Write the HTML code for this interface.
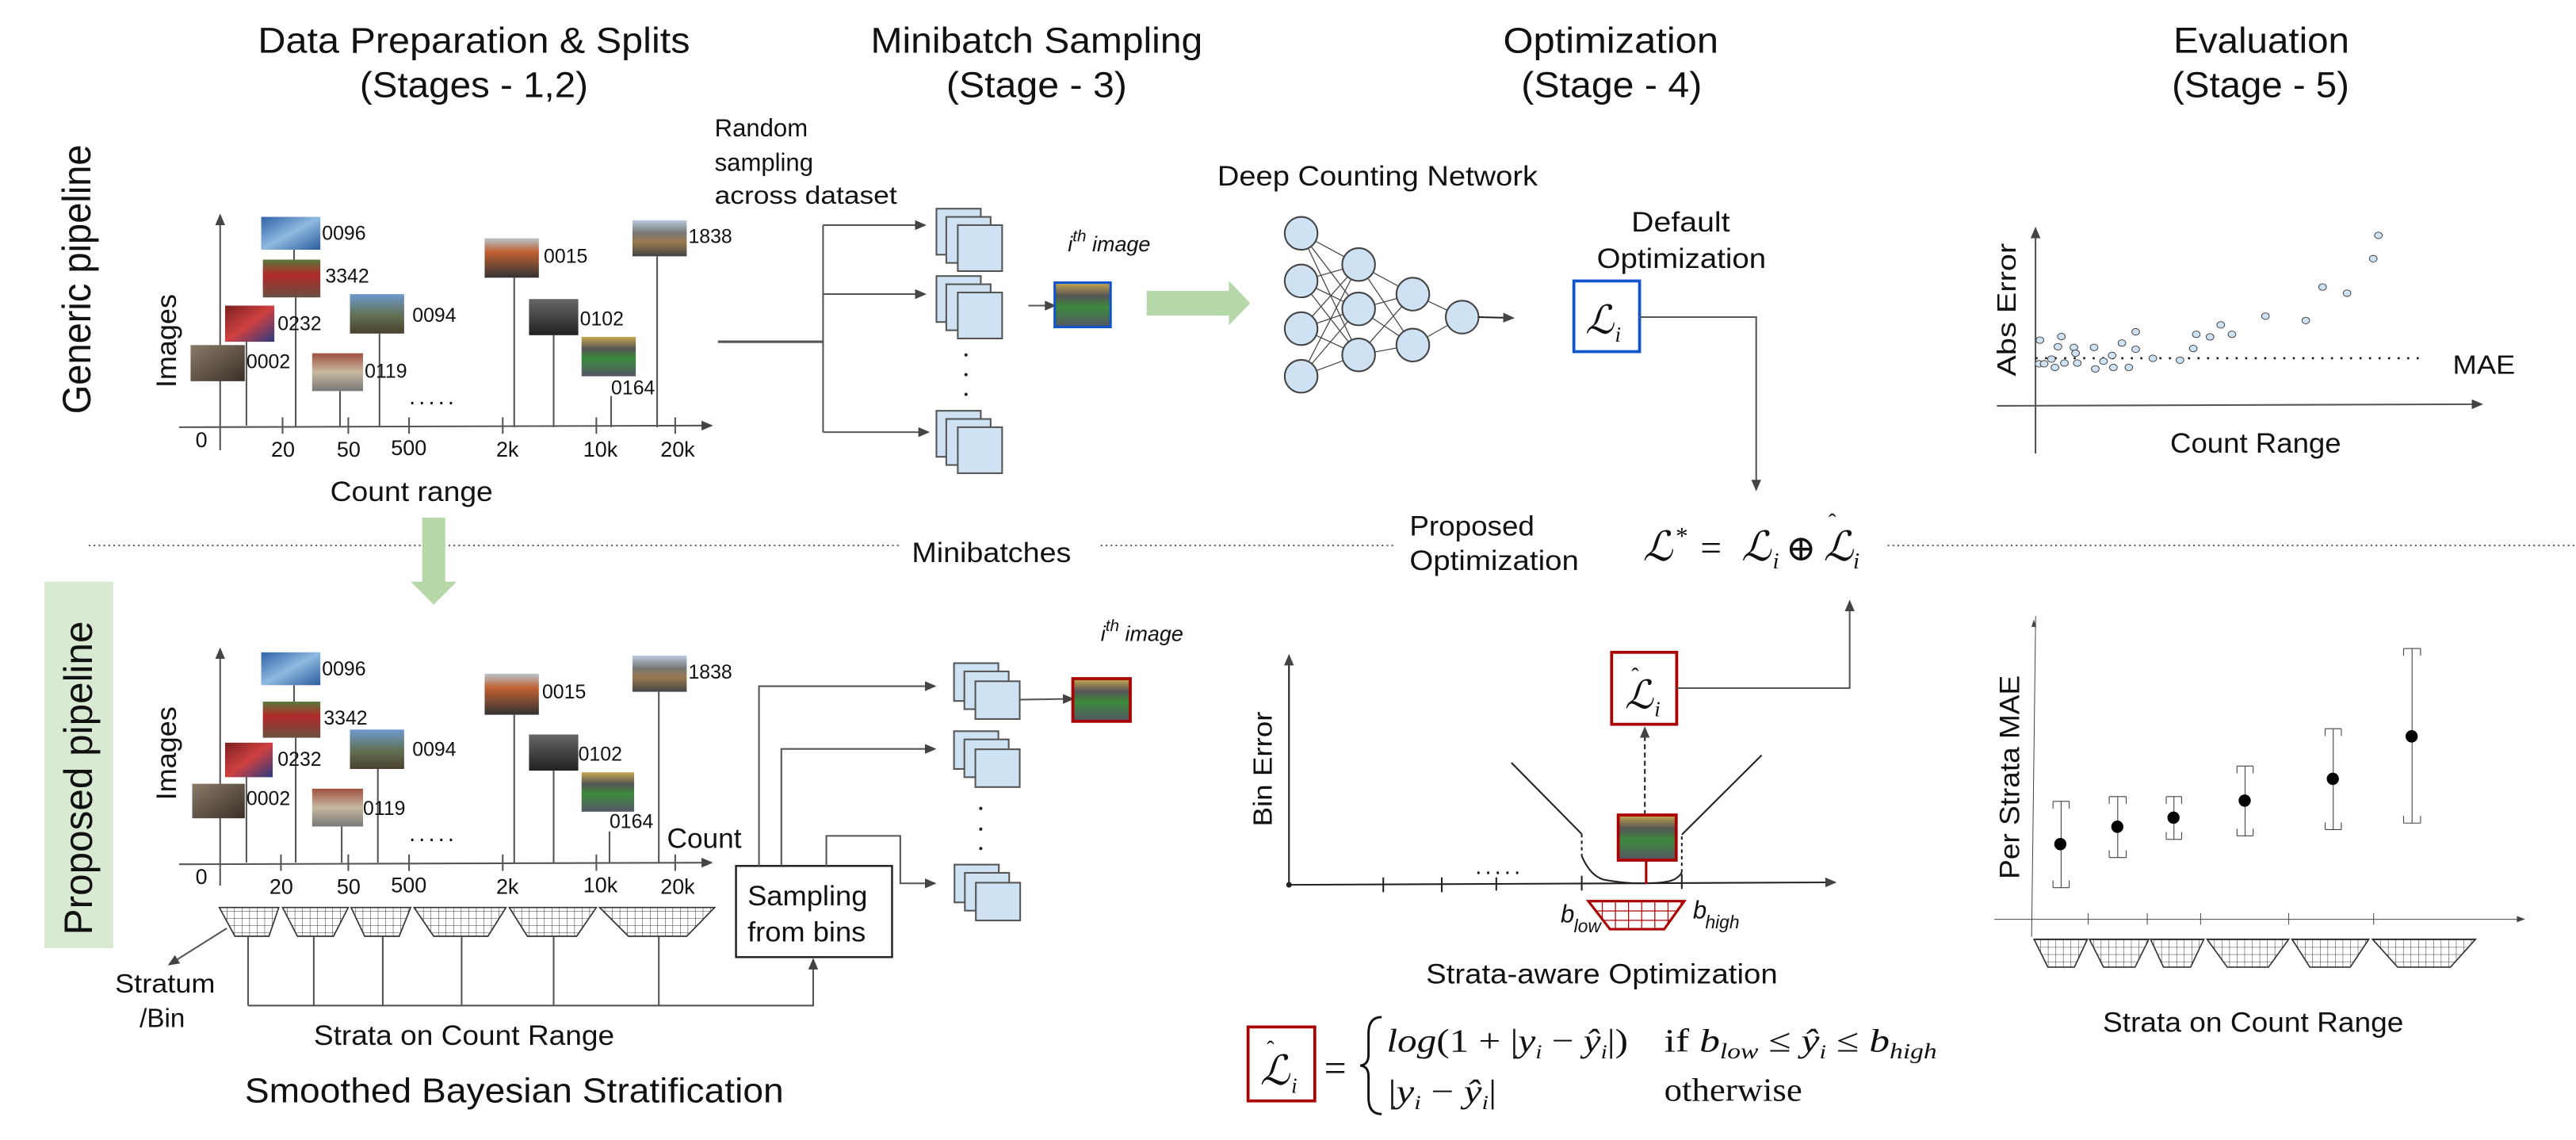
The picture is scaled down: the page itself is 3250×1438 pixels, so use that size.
<!DOCTYPE html>
<html><head><meta charset="utf-8"><style>
html,body{margin:0;padding:0;background:#fff;}
svg{display:block;}
.n{font-family:"Liberation Sans Narrow","Liberation Sans",sans-serif;fill:#111;}
.w{font-family:"Liberation Sans",sans-serif;fill:#111;}
.m{font-family:"Liberation Serif","DejaVu Serif",serif;fill:#111;}
.ln{stroke:#555;stroke-width:1;fill:none;}
</style></head><body>
<svg width="3250" height="1438" viewBox="0 0 1568 693.8" preserveAspectRatio="none" xmlns="http://www.w3.org/2000/svg">
<defs>
<marker id="ah" markerUnits="userSpaceOnUse" markerWidth="7" markerHeight="6" refX="6" refY="3" orient="auto"><path d="M0,0L7,3L0,6z" fill="#444"/></marker>
<pattern id="grid" width="4.6" height="4.4" patternUnits="userSpaceOnUse"><path d="M0,0H4.6M0,0V4.4" stroke="#333" stroke-width="0.5" fill="none"/></pattern>
<pattern id="rgrid" width="8" height="5.7" patternUnits="userSpaceOnUse" x="967" y="548.4"><path d="M0,0H8M0,0V5.7" stroke="#a00" stroke-width="1.2" fill="none"/></pattern>
<pattern id="dots" width="3" height="3" patternUnits="userSpaceOnUse"><circle cx="1.5" cy="1.5" r="0.8" fill="rgba(255,255,255,0.35)"/></pattern>
<linearGradient id="gBrown" x1="0" y1="0" x2="1" y2="1"><stop offset="0" stop-color="#8a7a68"/><stop offset="1" stop-color="#3a3028"/></linearGradient>
<linearGradient id="gBlue" x1="0" y1="0" x2="1" y2="1"><stop offset="0" stop-color="#2f62a8"/><stop offset="0.5" stop-color="#8fb9e0"/><stop offset="1" stop-color="#2b5c9c"/></linearGradient>
<linearGradient id="gRed" x1="0" y1="0" x2="0" y2="1"><stop offset="0" stop-color="#5a7a3a"/><stop offset="0.4" stop-color="#b02a2a"/><stop offset="1" stop-color="#6a5040"/></linearGradient>
<linearGradient id="gRed2" x1="0" y1="0" x2="1" y2="1"><stop offset="0" stop-color="#7a2020"/><stop offset="0.5" stop-color="#d04040"/><stop offset="1" stop-color="#2a3a80"/></linearGradient>
<linearGradient id="gSky" x1="0" y1="0" x2="0" y2="1"><stop offset="0" stop-color="#6f9ad0"/><stop offset="0.55" stop-color="#607050"/><stop offset="1" stop-color="#4a4030"/></linearGradient>
<linearGradient id="gStage" x1="0" y1="0" x2="0" y2="1"><stop offset="0" stop-color="#b8c4cc"/><stop offset="0.35" stop-color="#c06030"/><stop offset="1" stop-color="#333"/></linearGradient>
<linearGradient id="gCrowd" x1="0" y1="0" x2="0" y2="1"><stop offset="0" stop-color="#666"/><stop offset="1" stop-color="#222"/></linearGradient>
<linearGradient id="gField" x1="0" y1="0" x2="0" y2="1"><stop offset="0" stop-color="#c8a850"/><stop offset="0.3" stop-color="#555"/><stop offset="0.55" stop-color="#3c8a3c"/><stop offset="1" stop-color="#556"/></linearGradient>
<linearGradient id="gStad" x1="0" y1="0" x2="0" y2="1"><stop offset="0" stop-color="#bcd"/><stop offset="0.35" stop-color="#777"/><stop offset="0.6" stop-color="#9a7a50"/><stop offset="1" stop-color="#444"/></linearGradient>
<linearGradient id="gPlaza" x1="0" y1="0" x2="0" y2="1"><stop offset="0" stop-color="#a05040"/><stop offset="0.5" stop-color="#c8b8a0"/><stop offset="1" stop-color="#777"/></linearGradient>
</defs>

<!-- Titles -->
<text class="n" x="157" y="32" font-size="22" textLength="263" lengthAdjust="spacingAndGlyphs">Data Preparation &amp; Splits</text>
<text class="n" x="219" y="59" font-size="22" textLength="139" lengthAdjust="spacingAndGlyphs">(Stages - 1,2)</text>
<text class="n" x="530" y="32" font-size="22" textLength="202" lengthAdjust="spacingAndGlyphs">Minibatch Sampling</text>
<text class="n" x="576" y="59" font-size="22" textLength="110" lengthAdjust="spacingAndGlyphs">(Stage - 3)</text>
<text class="n" x="915" y="32" font-size="22" textLength="131" lengthAdjust="spacingAndGlyphs">Optimization</text>
<text class="n" x="926" y="59" font-size="22" textLength="110" lengthAdjust="spacingAndGlyphs">(Stage - 4)</text>
<text class="n" x="1323" y="32" font-size="22" textLength="107" lengthAdjust="spacingAndGlyphs">Evaluation</text>
<text class="n" x="1322" y="59" font-size="22" textLength="108" lengthAdjust="spacingAndGlyphs">(Stage - 5)</text>

<!-- Pipeline labels -->
<text class="w" transform="translate(55,252) rotate(-90)" font-size="24" textLength="164" lengthAdjust="spacingAndGlyphs">Generic pipeline</text>
<rect x="27" y="354" width="42" height="223" fill="#d9ead3"/>
<text class="w" transform="translate(56,569) rotate(-90)" font-size="24" textLength="191" lengthAdjust="spacingAndGlyphs">Proposed  pipeline</text>

<!-- Separator -->
<line x1="54" y1="332" x2="547" y2="332" stroke="#555" stroke-width="0.9" stroke-dasharray="1,2"/>
<line x1="670" y1="332" x2="850" y2="332" stroke="#555" stroke-width="0.9" stroke-dasharray="1,2"/>
<line x1="1149" y1="332" x2="1568" y2="332" stroke="#555" stroke-width="0.9" stroke-dasharray="1,2"/>
<text class="n" x="555" y="342" font-size="17" textLength="97" lengthAdjust="spacingAndGlyphs">Minibatches</text>

<!-- green down arrow -->
<polygon points="257,315 271,315 271,354 278,354 264,368 250,354 257,354" fill="#b6d7a8"/>

<!-- ===== TOP CHART ===== -->
<g class="ln">
<line x1="134" y1="274" x2="134" y2="131" marker-end="url(#ah)"/>
<line x1="109" y1="260" x2="433" y2="259" marker-end="url(#ah)"/>
<line x1="172" y1="254" x2="172" y2="264"/><line x1="212" y1="254" x2="212" y2="264"/><line x1="249" y1="254" x2="249" y2="264"/>
<line x1="306" y1="254" x2="306" y2="264"/><line x1="363" y1="254" x2="363" y2="264"/><line x1="411" y1="254" x2="411" y2="264"/>
<line x1="150" y1="208" x2="150" y2="259"/><line x1="180" y1="181" x2="180" y2="260"/><line x1="179" y1="152" x2="179" y2="158"/>
<line x1="207" y1="238" x2="207" y2="260"/><line x1="231" y1="203" x2="231" y2="260"/><line x1="313" y1="169" x2="313" y2="260"/>
<line x1="337" y1="204" x2="337" y2="260"/><line x1="372" y1="241" x2="372" y2="260"/><line x1="400" y1="156" x2="400" y2="260"/>
</g>
<g>
<rect x="159" y="132" width="36" height="20" fill="url(#gBlue)"/>
<rect x="160" y="158" width="35" height="23" fill="url(#gRed)"/>
<rect x="137" y="186" width="30" height="22" fill="url(#gRed2)"/>
<rect x="116" y="210" width="33" height="22" fill="url(#gBrown)"/>
<rect x="190" y="215" width="31" height="23" fill="url(#gPlaza)"/>
<rect x="213" y="179" width="33" height="24" fill="url(#gSky)"/>
<rect x="295" y="145" width="33" height="24" fill="url(#gStage)"/>
<rect x="322" y="182" width="30" height="22" fill="url(#gCrowd)"/>
<rect x="354" y="205" width="33" height="24" fill="url(#gField)"/>
<rect x="385" y="134" width="33" height="22" fill="url(#gStad)"/>
<rect x="116" y="132" width="302" height="106" fill="none"/>
</g>
<g class="n" font-size="12">
<text x="196" y="146">0096</text><text x="198" y="172">3342</text><text x="169" y="201">0232</text><text x="150" y="224">0002</text>
<text x="222" y="230">0119</text><text x="251" y="196">0094</text><text x="331" y="160">0015</text><text x="353" y="198">0102</text>
<text x="372" y="240">0164</text><text x="419" y="148">1838</text>
</g>
<g class="n" font-size="13">
<text x="119" y="272">0</text><text x="165" y="278">20</text><text x="205" y="278">50</text><text x="238" y="277">500</text>
<text x="302" y="278">2k</text><text x="355" y="278">10k</text><text x="402" y="278">20k</text>
</g>
<text class="n" x="249" y="246" font-size="14" letter-spacing="2">.....</text>
<text class="n" x="201" y="305" font-size="17" textLength="99" lengthAdjust="spacingAndGlyphs">Count range</text>
<text class="w" transform="translate(107,236) rotate(-90)" font-size="17" textLength="57" lengthAdjust="spacingAndGlyphs">Images</text>

<!-- random sampling -->
<text class="n" x="435" y="83" font-size="15">Random</text>
<text class="n" x="435" y="104" font-size="15">sampling</text>
<text class="n" x="435" y="124" font-size="15" textLength="111" lengthAdjust="spacingAndGlyphs">across dataset</text>
<g class="ln">
<line x1="437" y1="208" x2="501" y2="208" stroke-width="1.5"/>
<line x1="501" y1="137" x2="501" y2="263"/>
<line x1="501" y1="137" x2="563" y2="137" marker-end="url(#ah)"/>
<line x1="501" y1="179" x2="563" y2="179" marker-end="url(#ah)"/>
<line x1="501" y1="263" x2="565" y2="263" marker-end="url(#ah)"/>
<line x1="626" y1="186" x2="642" y2="186" marker-end="url(#ah)"/>
</g>
<g fill="#cfe2f3" stroke="#555" stroke-width="1">
<rect x="570" y="127" width="27" height="28"/><rect x="576" y="132" width="27" height="28"/><rect x="583" y="137" width="27" height="28"/>
<rect x="570" y="168" width="27" height="28"/><rect x="576" y="173" width="27" height="28"/><rect x="583" y="178" width="27" height="28"/>
<rect x="570" y="250" width="27" height="28"/><rect x="576" y="255" width="27" height="28"/><rect x="583" y="260" width="27" height="28"/>
</g>
<g fill="#222"><circle cx="588" cy="216" r="1"/><circle cx="588" cy="228" r="1"/><circle cx="588" cy="240" r="1"/></g>
<rect x="642" y="172" width="34" height="27" fill="url(#gField)" stroke="#1155cc" stroke-width="1.5"/>
<text class="n" x="650" y="153" font-size="13" font-style="italic">i<tspan dy="-6" font-size="10">th</tspan><tspan dy="6"> image</tspan></text>

<!-- green right arrow -->
<polygon points="698,177 748,177 748,171 761,184.5 748,198 748,192 698,192" fill="#b6d7a8"/>

<!-- NN -->
<g stroke="#444" stroke-width="0.6">
<path d="M792,142L827,161M792,142L827,188M792,142L827,216M792,171L827,161M792,171L827,188M792,171L827,216M792,200L827,161M792,200L827,188M792,200L827,216M792,229L827,161M792,229L827,188M792,229L827,216M827,161L860,179M827,161L860,210M827,188L860,179M827,188L860,210M827,216L860,179M827,216L860,210M860,179L890,193M860,210L890,193"/>
</g>
<g fill="#cfe2f3" stroke="#444" stroke-width="1">
<circle cx="792" cy="142" r="10"/><circle cx="792" cy="171" r="10"/><circle cx="792" cy="200" r="10"/><circle cx="792" cy="229" r="10"/>
<circle cx="827" cy="161" r="10"/><circle cx="827" cy="188" r="10"/><circle cx="827" cy="216" r="10"/>
<circle cx="860" cy="179" r="10"/><circle cx="860" cy="210" r="10"/><circle cx="890" cy="193" r="10"/>
</g>
<line x1="900" y1="193" x2="921" y2="193.5" stroke="#222" marker-end="url(#ah)"/>
<text class="n" x="741" y="113" font-size="17" textLength="195" lengthAdjust="spacingAndGlyphs">Deep Counting Network</text>
<text class="n" x="993" y="141" font-size="17" textLength="60" lengthAdjust="spacingAndGlyphs">Default</text>
<text class="n" x="972" y="163" font-size="17" textLength="103" lengthAdjust="spacingAndGlyphs">Optimization</text>
<rect x="958" y="171" width="40" height="43" fill="#fff" stroke="#1155cc" stroke-width="1.8"/>
<text class="m" x="965" y="203" font-size="24" font-style="italic">ℒ</text><text class="m" x="983" y="208" font-size="13" font-style="italic">i</text>
<polyline class="ln" points="998,193 1069,193 1069,298" marker-end="url(#ah)"/>

<!-- Proposed optimization / L* -->
<text class="n" x="858" y="326" font-size="17" textLength="76" lengthAdjust="spacingAndGlyphs">Proposed</text>
<text class="n" x="858" y="347" font-size="17" textLength="103" lengthAdjust="spacingAndGlyphs">Optimization</text>
<g class="m" font-style="italic">
<text x="1000" y="341" font-size="25">ℒ</text><text x="1020" y="331" font-size="15" font-style="normal">*</text>
<text x="1035" y="341" font-size="23" font-style="normal">=</text>
<text x="1060" y="341" font-size="25">ℒ</text><text x="1079" y="346" font-size="14">i</text>
<text x="1087" y="341" font-size="22" font-style="normal">⊕</text>
<text x="1110" y="341" font-size="25">ℒ</text><text x="1128" y="346" font-size="14">i</text>
<text x="1113" y="322" font-size="14" font-style="normal">ˆ</text>
</g>

<!-- ===== BOTTOM CHART ===== -->
<g class="ln">
<line x1="134" y1="539" x2="134" y2="395" marker-end="url(#ah)"/>
<line x1="109" y1="526" x2="433" y2="525" marker-end="url(#ah)"/>
<line x1="171" y1="520" x2="171" y2="530"/><line x1="212" y1="520" x2="212" y2="530"/><line x1="249" y1="520" x2="249" y2="530"/>
<line x1="306" y1="520" x2="306" y2="530"/><line x1="363" y1="520" x2="363" y2="530"/><line x1="411" y1="520" x2="411" y2="530"/>
<line x1="150" y1="473" x2="150" y2="525"/><line x1="180" y1="449" x2="180" y2="525"/><line x1="179" y1="417" x2="179" y2="427"/>
<line x1="208" y1="503" x2="208" y2="525"/><line x1="230" y1="468" x2="230" y2="525"/><line x1="313" y1="435" x2="313" y2="525"/>
<line x1="337" y1="469" x2="337" y2="525"/><line x1="371" y1="506" x2="371" y2="525"/><line x1="401" y1="421" x2="401" y2="525"/>
</g>
<g>
<rect x="159" y="397" width="36" height="20" fill="url(#gBlue)"/>
<rect x="160" y="427" width="35" height="22" fill="url(#gRed)"/>
<rect x="137" y="452" width="29" height="21" fill="url(#gRed2)"/>
<rect x="117" y="477" width="32" height="21" fill="url(#gBrown)"/>
<rect x="190" y="480" width="31" height="23" fill="url(#gPlaza)"/>
<rect x="213" y="444" width="33" height="24" fill="url(#gSky)"/>
<rect x="295" y="410" width="33" height="25" fill="url(#gStage)"/>
<rect x="322" y="447" width="30" height="22" fill="url(#gCrowd)"/>
<rect x="354" y="470" width="32" height="24" fill="url(#gField)"/>
<rect x="385" y="399" width="33" height="22" fill="url(#gStad)"/>
</g>
<g class="n" font-size="12">
<text x="196" y="411">0096</text><text x="197" y="441">3342</text><text x="169" y="466">0232</text><text x="150" y="490">0002</text>
<text x="221" y="496">0119</text><text x="251" y="460">0094</text><text x="330" y="425">0015</text><text x="352" y="463">0102</text>
<text x="371" y="504">0164</text><text x="419" y="413">1838</text>
</g>
<g class="n" font-size="13">
<text x="119" y="538">0</text><text x="164" y="544">20</text><text x="205" y="544">50</text><text x="238" y="543">500</text>
<text x="302" y="544">2k</text><text x="355" y="543">10k</text><text x="402" y="544">20k</text>
</g>
<text class="n" x="249" y="512" font-size="14" letter-spacing="2">.....</text>
<text class="n" x="406" y="516" font-size="17">Count</text>
<text class="w" transform="translate(107,487) rotate(-90)" font-size="17" textLength="57" lengthAdjust="spacingAndGlyphs">Images</text>

<!-- bins -->
<g stroke="#333" stroke-width="0.8">
<polygon points="133.5,552.3 169.7,552.3 163.7,569.8 143,569.8" fill="url(#grid)"/>
<polygon points="172,552.3 212,552.3 203,569.8 181,569.8" fill="url(#grid)"/>
<polygon points="213.7,552.3 250,552.3 243,569.8 222,569.8" fill="url(#grid)"/>
<polygon points="252,552.3 308,552.3 297,569.8 264,569.8" fill="url(#grid)"/>
<polygon points="310,552.3 363,552.3 351,569.8 321,569.8" fill="url(#grid)"/>
<polygon points="365,552.3 435,552.3 418,569.8 382.5,569.8" fill="url(#grid)"/>
</g>
<g class="ln">
<line x1="151" y1="570" x2="151" y2="612"/><line x1="191" y1="570" x2="191" y2="612"/><line x1="233" y1="570" x2="233" y2="612"/>
<line x1="281" y1="570" x2="281" y2="612"/><line x1="337" y1="570" x2="337" y2="612"/><line x1="401" y1="570" x2="401" y2="612"/>
<polyline points="151,612 495,612 495,584" marker-end="url(#ah)"/>
<line x1="138" y1="565" x2="103" y2="587" marker-end="url(#ah)"/>
</g>
<text class="n" x="70" y="604" font-size="16" textLength="61" lengthAdjust="spacingAndGlyphs">Stratum</text>
<text class="n" x="85" y="625" font-size="16">/Bin</text>
<text class="n" x="191" y="636" font-size="17" textLength="183" lengthAdjust="spacingAndGlyphs">Strata on Count Range</text>
<text class="n" x="149" y="671" font-size="21" textLength="328" lengthAdjust="spacingAndGlyphs">Smoothed Bayesian Stratification</text>

<rect x="448" y="527" width="95" height="55.5" fill="#fff" stroke="#222" stroke-width="1.2"/>
<text class="n" x="455" y="551" font-size="17" textLength="73" lengthAdjust="spacingAndGlyphs">Sampling</text>
<text class="n" x="455" y="573" font-size="17" textLength="72" lengthAdjust="spacingAndGlyphs">from bins</text>
<g class="ln">
<polyline points="462,527 462,417.6 569,417.6" marker-end="url(#ah)"/>
<polyline points="475.6,527 475.6,455.8 569,455.8" marker-end="url(#ah)"/>
<polyline points="503,527 503,508.7 548,508.7 548,537.6 569,537.6" marker-end="url(#ah)"/>
<line x1="620" y1="425.8" x2="653" y2="425.3" marker-end="url(#ah)"/>
</g>
<g fill="#cfe2f3" stroke="#555" stroke-width="1">
<rect x="580.7" y="403.6" width="27" height="23"/><rect x="587" y="408.6" width="27" height="23"/><rect x="593.7" y="414.6" width="27" height="23"/>
<rect x="580.7" y="445" width="27" height="23"/><rect x="587" y="450" width="27" height="23"/><rect x="593.7" y="456" width="27" height="23"/>
<rect x="581" y="526.2" width="27" height="23"/><rect x="587.3" y="531.2" width="27" height="23"/><rect x="594" y="537.2" width="27" height="23"/>
</g>
<g fill="#222"><circle cx="597" cy="492" r="1"/><circle cx="597" cy="504.6" r="1"/><circle cx="597" cy="516.4" r="1"/></g>
<rect x="653" y="413" width="35" height="26" fill="url(#gField)" stroke="#a00" stroke-width="1.8"/>
<text class="n" x="670" y="390" font-size="13" font-style="italic">i<tspan dy="-6" font-size="10">th</tspan><tspan dy="6"> image</tspan></text>

<!-- ===== BIN ERROR CHART ===== -->
<g stroke="#222" stroke-width="1" fill="none">
<line x1="784.6" y1="538.5" x2="784.6" y2="399" marker-end="url(#ah)"/>
<line x1="784.6" y1="538.5" x2="1117" y2="537" marker-end="url(#ah)"/>
<circle cx="784.6" cy="538.5" r="1.2" fill="#222"/>
<line x1="842" y1="534" x2="842" y2="543"/><line x1="877.6" y1="534" x2="877.6" y2="543"/><line x1="910.8" y1="534" x2="910.8" y2="542"/>
<line x1="962.8" y1="533" x2="962.8" y2="542"/><line x1="1023.7" y1="532" x2="1023.7" y2="541"/>
<line x1="920" y1="464.2" x2="962.8" y2="507.6"/>
<line x1="962.8" y1="507.6" x2="962.8" y2="521" stroke-dasharray="2,2"/>
<path d="M962.8,521 Q968,533 976,535.3 Q990,538 1002,537.5 Q1014,537.5 1019,535.3 Q1023,533 1023.7,530.7"/>
<line x1="1023.7" y1="509" x2="1023.7" y2="530.7" stroke-dasharray="2,2"/>
<line x1="1023.7" y1="508" x2="1072.3" y2="459.6"/>
<line x1="1001.2" y1="496" x2="1001.2" y2="443" stroke-dasharray="3,2" marker-end="url(#ah)"/>
</g>
<text class="n" x="898" y="532" font-size="14" letter-spacing="2">.....</text>
<line x1="1002" y1="523.5" x2="1002" y2="538" stroke="#a00" stroke-width="1.5"/>
<rect x="985" y="496" width="35.3" height="27.5" fill="url(#gField)" stroke="#a00" stroke-width="1.8"/>
<polygon points="966.8,548.4 1025.2,548.4 1013,565.5 980,565.5" fill="url(#rgrid)" stroke="#a00" stroke-width="1.5"/>
<text class="w" x="950" y="561.4" font-size="15" font-style="italic">b</text><text class="w" x="958" y="567.5" font-size="11" font-style="italic">low</text>
<text class="w" x="1030.5" y="559" font-size="15" font-style="italic">b</text><text class="w" x="1038" y="565" font-size="11" font-style="italic">high</text>
<text class="w" transform="translate(774,503) rotate(-90)" font-size="16" textLength="70" lengthAdjust="spacingAndGlyphs">Bin Error</text>
<rect x="981" y="397" width="39.6" height="43.8" fill="#fff" stroke="#a00" stroke-width="1.8"/>
<text class="m" x="989" y="431" font-size="24" font-style="italic">ℒ</text><text class="m" x="1007" y="436" font-size="13" font-style="italic">i</text>
<text class="m" x="993" y="416" font-size="14">ˆ</text>
<polyline class="ln" points="1020.6,418.8 1125.9,418.8 1125.9,366" marker-end="url(#ah)"/>
<text class="n" x="868" y="598.4" font-size="17" textLength="214" lengthAdjust="spacingAndGlyphs">Strata-aware Optimization</text>

<!-- formula -->
<rect x="759.7" y="625" width="40.6" height="45" fill="#fff" stroke="#a00" stroke-width="1.8"/>
<text class="m" x="767" y="660" font-size="25" font-style="italic">ℒ</text><text class="m" x="786" y="665" font-size="13" font-style="italic">i</text>
<text class="m" x="771" y="643" font-size="14">ˆ</text>
<text class="m" x="806" y="658" font-size="24">=</text>
<path d="M841,619 Q833,619 833,629 L833,642 Q833,648 828,648.5 Q833,649 833,655 L833,668 Q833,678 841,678" stroke="#111" stroke-width="1.4" fill="none"/>
<text class="m" x="844" y="640" font-size="20" textLength="147" lengthAdjust="spacingAndGlyphs"><tspan font-style="italic">log</tspan>(1 + |<tspan font-style="italic">y</tspan><tspan font-size="12" font-style="italic" dy="4">i</tspan><tspan dy="-4"> − </tspan><tspan font-style="italic">ŷ</tspan><tspan font-size="12" font-style="italic" dy="4">i</tspan><tspan dy="-4">|)</tspan></text>
<text class="m" x="1013" y="640" font-size="20" textLength="166" lengthAdjust="spacingAndGlyphs">if <tspan font-style="italic">b</tspan><tspan font-size="13" font-style="italic" dy="4">low</tspan><tspan dy="-4"> ≤ </tspan><tspan font-style="italic">ŷ</tspan><tspan font-size="12" font-style="italic" dy="4">i</tspan><tspan dy="-4"> ≤ </tspan><tspan font-style="italic">b</tspan><tspan font-size="13" font-style="italic" dy="4">high</tspan></text>
<text class="m" x="845" y="671" font-size="20" textLength="66" lengthAdjust="spacingAndGlyphs">|<tspan font-style="italic">y</tspan><tspan font-size="12" font-style="italic" dy="4">i</tspan><tspan dy="-4"> − </tspan><tspan font-style="italic">ŷ</tspan><tspan font-size="12" font-style="italic" dy="4">i</tspan><tspan dy="-4">|</tspan></text>
<text class="m" x="1013" y="670" font-size="20" textLength="84" lengthAdjust="spacingAndGlyphs">otherwise</text>

<!-- ===== EVALUATION TOP ===== -->
<g class="ln">
<line x1="1239" y1="276" x2="1239" y2="139" marker-end="url(#ah)"/>
<line x1="1215.5" y1="247" x2="1510.5" y2="246" marker-end="url(#ah)"/>
</g>
<line x1="1239" y1="218" x2="1476" y2="218" stroke="#222" stroke-width="1.3" stroke-dasharray="1.3,4.5"/>
<g transform="translate(1158,0) scale(0.2615,0.2214)" fill="#cfe2f3" stroke="#333" stroke-width="0.9">
<g vector-effect="non-scaling-stroke">
<circle cx="320" cy="935" r="9" vector-effect="non-scaling-stroke"/><circle cx="318" cy="1000" r="9" vector-effect="non-scaling-stroke"/><circle cx="330" cy="1000" r="9" vector-effect="non-scaling-stroke"/>
<circle cx="347" cy="987" r="9" vector-effect="non-scaling-stroke"/><circle cx="355" cy="1010" r="9" vector-effect="non-scaling-stroke"/><circle cx="362" cy="953" r="9" vector-effect="non-scaling-stroke"/>
<circle cx="370" cy="925" r="9" vector-effect="non-scaling-stroke"/><circle cx="377" cy="998" r="9" vector-effect="non-scaling-stroke"/><circle cx="399" cy="955" r="9" vector-effect="non-scaling-stroke"/>
<circle cx="403" cy="971" r="9" vector-effect="non-scaling-stroke"/><circle cx="407" cy="998" r="9" vector-effect="non-scaling-stroke"/><circle cx="446" cy="955" r="9" vector-effect="non-scaling-stroke"/>
<circle cx="449" cy="1014" r="9" vector-effect="non-scaling-stroke"/><circle cx="468" cy="993" r="9" vector-effect="non-scaling-stroke"/><circle cx="488" cy="977" r="9" vector-effect="non-scaling-stroke"/>
<circle cx="491" cy="1010" r="9" vector-effect="non-scaling-stroke"/><circle cx="511" cy="943" r="9" vector-effect="non-scaling-stroke"/><circle cx="527" cy="1010" r="9" vector-effect="non-scaling-stroke"/>
<circle cx="543" cy="912" r="9" vector-effect="non-scaling-stroke"/><circle cx="543" cy="960" r="9" vector-effect="non-scaling-stroke"/><circle cx="583" cy="985" r="9" vector-effect="non-scaling-stroke"/>
<circle cx="646" cy="990" r="9" vector-effect="non-scaling-stroke"/><circle cx="677" cy="958" r="9" vector-effect="non-scaling-stroke"/><circle cx="684" cy="919" r="9" vector-effect="non-scaling-stroke"/>
<circle cx="716" cy="926" r="9" vector-effect="non-scaling-stroke"/><circle cx="741" cy="893" r="9" vector-effect="non-scaling-stroke"/><circle cx="767" cy="919" r="9" vector-effect="non-scaling-stroke"/>
<circle cx="845" cy="869" r="9" vector-effect="non-scaling-stroke"/><circle cx="939" cy="881" r="9" vector-effect="non-scaling-stroke"/><circle cx="978" cy="789" r="9" vector-effect="non-scaling-stroke"/>
<circle cx="1035" cy="806" r="9" vector-effect="non-scaling-stroke"/><circle cx="1096" cy="711" r="9" vector-effect="non-scaling-stroke"/><circle cx="1108" cy="647" r="9" vector-effect="non-scaling-stroke"/>
</g></g>
<text class="w" transform="translate(1227,229) rotate(-90)" font-size="16" textLength="81" lengthAdjust="spacingAndGlyphs">Abs  Error</text>
<text class="w" x="1493" y="227.6" font-size="16" textLength="38" lengthAdjust="spacingAndGlyphs">MAE</text>
<text class="n" x="1321" y="275.6" font-size="17" textLength="104" lengthAdjust="spacingAndGlyphs">Count Range</text>

<!-- ===== EVALUATION BOTTOM ===== -->
<g transform="translate(1182,347.4) scale(0.2461,0.2209)" stroke="#444" fill="none">
<line x1="222" y1="1008" x2="232" y2="125" stroke-width="1" vector-effect="non-scaling-stroke"/>
<path d="M222,125 L232,125" stroke-width="0"/>
<line x1="130" y1="960" x2="1440" y2="960" stroke-width="1" vector-effect="non-scaling-stroke"/>
<path d="M362,943V975M508,943V975M640,943V975M858,943V975M1068,943V975" stroke-width="1" vector-effect="non-scaling-stroke"/>
<path d="M275,635H315M295,635V873M275,873H315M275,635V655M315,635V655M275,873V853M315,873V853
M414,622H456M435,622V790M414,790H456M414,622V642M456,622V642M414,790V770M456,790V770
M555,622H593M574,622V740M555,740H593M555,622V642M593,622V642M555,740V720M593,740V720
M730,538H770M750,538V730M730,730H770M730,538V558M770,538V558M730,730V710M770,730V710
M948,435H988M968,435V713M948,713H988M948,435V455M988,435V455M948,713V693M988,713V693
M1142,214H1184M1163,214V695M1142,695H1184M1142,214V234M1184,214V234M1142,695V675M1184,695V675" stroke-width="1.1" vector-effect="non-scaling-stroke"/>
<g fill="#000" stroke="none">
<ellipse cx="293" cy="753" rx="15" ry="17"/><ellipse cx="434" cy="705" rx="15" ry="17"/><ellipse cx="573" cy="680" rx="15" ry="17"/>
<ellipse cx="749" cy="633" rx="15" ry="17"/><ellipse cx="967" cy="573" rx="15" ry="17"/><ellipse cx="1162" cy="456" rx="15" ry="17"/>
</g>
</g>
<polygon points="1238,377 1236.5,381.5 1239.5,381.5" fill="#444"/>
<polygon points="1537,559.4 1532,557.5 1532,561.3" fill="#444"/>
<g stroke="#333" stroke-width="0.8">
<polygon points="1238.1,571.6 1270.6,571.6 1262.7,588.6 1246.5,588.6" fill="url(#grid)"/>
<polygon points="1271.8,571.6 1308,571.6 1299.6,588.6 1280.4,588.6" fill="url(#grid)"/>
<polygon points="1309,571.6 1341.5,571.6 1333.4,588.6 1316.9,588.6" fill="url(#grid)"/>
<polygon points="1343.4,571.6 1393.2,571.6 1380.8,588.6 1355.7,588.6" fill="url(#grid)"/>
<polygon points="1395.1,571.6 1441.9,571.6 1430.6,588.6 1406,588.6" fill="url(#grid)"/>
<polygon points="1444.1,571.6 1506.9,571.6 1491.6,588.6 1459.4,588.6" fill="url(#grid)"/>
</g>
<text class="w" transform="translate(1229,535) rotate(-90)" font-size="17" textLength="124" lengthAdjust="spacingAndGlyphs">Per Strata MAE</text>
<text class="w" x="1280" y="628" font-size="17" textLength="183" lengthAdjust="spacingAndGlyphs">Strata on Count Range</text>
</svg>
</body></html>
